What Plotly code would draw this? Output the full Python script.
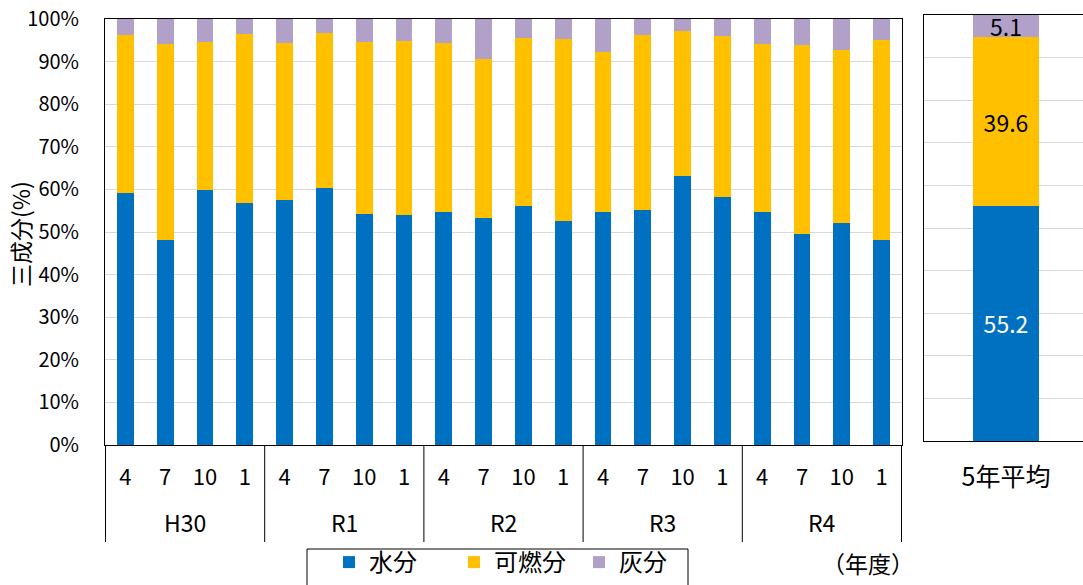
import plotly.graph_objects as go

# ── data ─────────────────────────────────────────────────────────────────────
years = ["H30", "R1", "R2", "R3", "R4"]
months = ["4", "7", "10", "1"]

water = [59.2, 48.1, 59.9, 56.7, 57.4, 60.3, 54.2, 53.9, 54.8, 53.4,
         56.2, 52.6, 54.8, 55.2, 63.1, 58.1, 54.8, 49.6, 52.2, 48.1]
combustible = [37.0, 46.1, 34.6, 39.7, 37.0, 36.3, 40.3, 40.9, 39.6, 37.3,
               39.3, 42.7, 37.5, 41.0, 34.0, 37.8, 39.4, 44.3, 40.6, 47.0]
ash = [3.8, 5.8, 5.5, 3.6, 5.6, 3.4, 5.5, 5.2, 5.6, 9.3,
       4.5, 4.7, 7.7, 3.8, 2.9, 4.1, 5.8, 6.1, 7.2, 4.9]

avg_label = ["5年平均"]
avg_water = [55.2]
avg_combustible = [39.6]
avg_ash = [5.1]

series_names = ["水分", "可燃分", "灰分"]
colors = ["#0070C0", "#FFC000", "#B1A0C7"]

y_ticks = list(range(0, 101, 10))

# unique category keys, shown with the month as tick text
x_keys = [f"{y}-{m}" for y in years for m in months]
x_text = [m for _ in years for m in months]

FONT = "Noto Sans CJK JP"
W, H = 1083, 585
AXIS_Y = 445      # px, bottom of the left plot
DIV_BOTTOM = 542  # px, bottom end of the group dividers


def py(px):
    """pixel row (from top) -> paper fraction"""
    return (H - px) / H


fig = go.Figure()

# ── monthly bars ─────────────────────────────────────────────────────────────
for name, vals, col in zip(series_names, [water, combustible, ash], colors):
    fig.add_trace(go.Bar(
        x=x_keys, y=vals, name=name,
        marker=dict(color=col, line=dict(width=0)),
        xaxis="x", yaxis="y",
    ))

# ── 5-year average bar ───────────────────────────────────────────────────────
avg_text_colors = ["white", "black", "black"]
for name, vals, col, tc in zip(series_names, [avg_water, avg_combustible, avg_ash],
                               colors, avg_text_colors):
    fig.add_trace(go.Bar(
        x=avg_label, y=vals, name=name, showlegend=False,
        marker=dict(color=col, line=dict(width=0)),
        width=0.4,
        text=[f"{v:.1f}" for v in vals], textposition="inside",
        insidetextanchor="middle", constraintext="none", textangle=0,
        textfont=dict(color=tc, size=23, family=FONT),
        xaxis="x2", yaxis="y2",
    ))

fig.update_layout(
    width=W, height=H,
    barmode="stack", bargap=0.58,
    template="none",
    paper_bgcolor="white", plot_bgcolor="white",
    font=dict(family=FONT, size=20, color="black"),
    margin=dict(l=0, r=0, t=0, b=0),
    xaxis=dict(
        domain=[105 / W, 902 / W], type="category",
        tickvals=x_keys, ticktext=x_text,
        showline=True, linecolor="black", linewidth=1, mirror=True,
        ticks="outside", ticklen=13, tickcolor="rgba(0,0,0,0)",
        tickfont=dict(size=22), showgrid=False, automargin=False,
    ),
    yaxis=dict(
        domain=[py(AXIS_Y), py(19)], range=[0, 100],
        tickvals=y_ticks, ticktext=[f"{v}%" for v in y_ticks],
        showline=True, linecolor="black", linewidth=1, mirror=True,
        showgrid=True, gridcolor="#D9D9D9", gridwidth=1,
        ticks="outside", ticklen=21, tickcolor="rgba(0,0,0,0)",
        tickfont=dict(size=20), automargin=False,
        zeroline=False,
    ),
    xaxis2=dict(
        domain=[924 / W, 1.0], anchor="y2", range=[-0.5, 0.47],
        showline=True, linecolor="black", linewidth=1, mirror=True,
        ticks="outside", ticklen=14, tickcolor="rgba(0,0,0,0)",
        tickfont=dict(size=25), showgrid=False, automargin=False,
    ),
    yaxis2=dict(
        domain=[py(441), py(15)], range=[0, 100], anchor="x2",
        tickvals=y_ticks, showticklabels=False,
        showline=True, linecolor="black", linewidth=1, mirror=False,
        showgrid=True, gridcolor="#D9D9D9", gridwidth=1,
        ticks="", zeroline=False, automargin=False,
    ),
    legend=dict(
        orientation="h", x=329 / W, xanchor="left",
        y=0, yanchor="bottom",
        borderwidth=0, bgcolor="rgba(0,0,0,0)",
        font=dict(size=24), itemwidth=30,
        entrywidthmode="pixels", entrywidth=80,
        traceorder="normal",
    ),
)

# legend frame (runs off the bottom edge like the original)
fig.add_shape(
    type="rect", xref="paper", yref="paper",
    x0=307 / W, x1=688 / W, y0=py(600), y1=py(549),
    line=dict(color="black", width=1), fillcolor="rgba(0,0,0,0)",
)

# y-axis title
fig.add_annotation(
    text="三成分(%)", xref="paper", yref="paper",
    x=20 / W, y=py(234), showarrow=False, textangle=-90,
    font=dict(size=23), xanchor="center", yanchor="middle",
)

# year group labels and dividers under the month labels
n = len(months)
for i, yr in enumerate(years):
    fig.add_annotation(
        text=yr, xref="x", yref="paper",
        x=i * n + (n - 1) / 2, y=py(522), showarrow=False,
        font=dict(size=23), xanchor="center", yanchor="middle",
    )
for i in range(len(years) + 1):
    fig.add_shape(
        type="line", xref="x", yref="paper",
        x0=i * n - 0.5, x1=i * n - 0.5,
        y0=py(AXIS_Y), y1=py(DIV_BOTTOM),
        line=dict(color="black", width=1),
    )

fig.add_annotation(
    text="（年度）", xref="paper", yref="paper",
    x=868 / W, y=py(563), showarrow=False,
    font=dict(size=23), xanchor="center", yanchor="middle",
)

fig.write_html(
    "out.html",
    config={"displayModeBar": False},
    post_script="document.body.style.margin='0';",
)
